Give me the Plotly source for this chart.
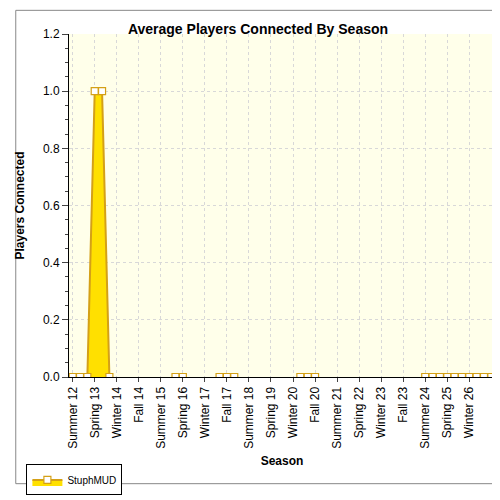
import plotly.graph_objects as go

seasons_order = ["Winter", "Spring", "Summer", "Fall"]
categories = []
yr, si = 12, 2
for _ in range(58):
    categories.append(f"{seasons_order[si]} {yr}")
    si += 1
    if si == 4:
        si = 0
        yr += 1

values = [None] * 58
for i in [0, 1, 2, 5, 14, 15, 20, 21, 22, 31, 32, 33] + list(range(48, 58)):
    values[i] = 0
values[3] = 1.0
values[4] = 1.0

tick_labels = categories[0:55:3]

fig = go.Figure(go.Scatter(
    x=categories, y=values, mode="lines+markers", name="StuphMUD",
    fill="tozeroy", fillcolor="#FFE000",
    line=dict(color="#D4A017", width=2),
    marker=dict(symbol="square", size=7, color="white", line=dict(color="#D4A017", width=1.2)),
    connectgaps=False,
))
fig.update_layout(
    width=500, height=500, margin=dict(l=55, r=13, t=26, b=114),
    paper_bgcolor="white", plot_bgcolor="#FFFFEA",
    font=dict(family="Liberation Sans, Arial", size=12, color="black"),
    title=dict(text="<b>Average Players Connected By Season</b>", x=0.5, xanchor="center", y=0.968, font=dict(size=14)),
    showlegend=True,
    legend=dict(x=-0.1, y=-0.255, xanchor="left", yanchor="top", orientation="h",
                bordercolor="black", borderwidth=1, font=dict(size=10)),
    xaxis=dict(title=dict(text="<b>Season</b>", font=dict(size=12), standoff=8),
               type="category", tickmode="array", tickvals=tick_labels, ticktext=tick_labels,
               tickangle=-90, range=[-0.5, 57.5], showline=True, linecolor="black",
               ticks="outside", ticklen=4, showgrid=True, gridcolor="#D8D8D8", griddash="dot",
               zeroline=False),
    yaxis=dict(title=dict(text="<b>Players Connected</b>", font=dict(size=12)),
               range=[0, 1.2], dtick=0.2, tickformat=".1f", showline=True, linecolor="black",
               ticks="outside", ticklen=6, showgrid=True, gridcolor="#D8D8D8", griddash="dot",
               zeroline=False, minor=dict(dtick=0.05, ticks="outside", ticklen=3, showgrid=False)),
    shapes=[dict(type="rect", xref="paper", yref="paper", x0=-0.125, y0=-0.311, x1=1.025, y1=1.069,
                 line=dict(color="#888888", width=1))],
)
fig.write_html("out.html")
